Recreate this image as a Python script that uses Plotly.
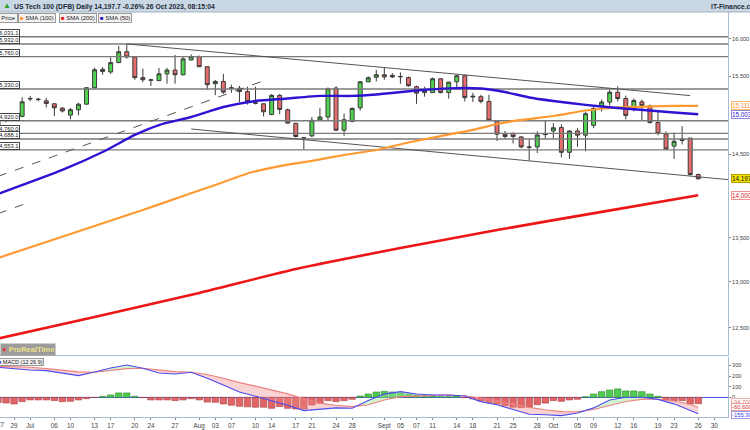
import numpy as np
import pandas as pd
import plotly.graph_objects as go

# ---------------- data ----------------
sessions = pd.bdate_range("2023-06-27", "2023-10-26")      # DFB daily sessions (trades on US holidays)
calendar = pd.bdate_range("2023-06-27", "2023-11-01")      # axis calendar (incl. future days)
pos = {d.strftime("%Y-%m-%d"): k for k, d in enumerate(calendar)}

opens = [14860, 14950, 14955, 14976, 15200, 15192, 15176, 15138, 15082, 14992,
         15061, 15133, 15347, 15590, 15555, 15680, 15826, 15755, 15480, 15445,
         15440, 15530, 15580, 15518, 15716, 15760, 15625, 15400, 15430, 15340,
         15340, 15296, 15150, 15138, 15001, 15248, 15060, 14888, 14705, 14728,
         14930, 14968, 15343, 14800, 14910, 15086, 15425, 15485, 15518, 15510,
         15490, 15480, 15360, 15283, 15283, 15465, 15283, 15425, 15505, 15225,
         15230, 15167, 14915, 14750, 14760, 14715, 14590, 14590, 14745, 14790,
         14833, 14523, 14790, 14737, 14862, 15110, 15160, 15288, 15206, 15070,
         15163, 15110, 14897, 14750, 14600, 14670, 14700, 14250]
highs = [14965, 14990, 15010, 15222, 15240, 15215, 15215, 15140, 15095, 15082,
         15150, 15355, 15610, 15620, 15750, 15906, 15932, 15765, 15600, 15465,
         15610, 15610, 15783, 15770, 15790, 15775, 15630, 15450, 15530, 15387,
         15370, 15360, 15360, 15140, 15265, 15265, 15077, 14890, 14715, 14968,
         15086, 15350, 15365, 15010, 15090, 15433, 15500, 15584, 15620, 15540,
         15550, 15495, 15375, 15360, 15482, 15470, 15425, 15520, 15518, 15280,
         15255, 15255, 14920, 14790, 14770, 14725, 14688, 14785, 14920, 14890,
         14875, 14800, 14825, 15035, 15105, 15193, 15321, 15365, 15245, 15206,
         15193, 15128, 15035, 14785, 14770, 14850, 14700, 14260]
lows = [14840, 14900, 14915, 14965, 15170, 15170, 15090, 14980, 15025, 14938,
        14990, 15125, 15340, 15520, 15530, 15675, 15735, 15452, 15420, 15370,
        15435, 15400, 15400, 15510, 15710, 15620, 15321, 15250, 15265, 15280,
        15160, 15128, 15130, 14975, 14990, 15005, 14885, 14708, 14564, 14712,
        14920, 14920, 14792, 14728, 14900, 15050, 15420, 15430, 15452, 15475,
        15400, 15360, 15137, 15230, 15280, 15275, 15205, 15355, 15167, 15160,
        15143, 14912, 14664, 14688, 14634, 14574, 14420, 14513, 14690, 14700,
        14460, 14441, 14590, 14535, 14825, 15040, 15115, 15167, 14938, 15040,
        14925, 14885, 14735, 14550, 14441, 14620, 14238, 14190]
closes = [14950, 14965, 14975, 15163, 15206, 15196, 15142, 15086, 15045, 15061,
          15133, 15347, 15584, 15562, 15680, 15826, 15755, 15480, 15452, 15450,
          15530, 15580, 15518, 15730, 15760, 15625, 15387, 15430, 15290, 15345,
          15296, 15167, 15145, 15035, 15248, 15065, 14890, 14720, 14700, 14925,
          14968, 15334, 14800, 14933, 15078, 15425, 15478, 15518, 15490, 15490,
          15495, 15373, 15276, 15312, 15465, 15283, 15420, 15505, 15218, 15235,
          15170, 14925, 14750, 14720, 14720, 14590, 14585, 14740, 14750, 14830,
          14523, 14790, 14737, 15010, 15078, 15160, 15288, 15206, 14988, 15180,
          15115, 14897, 14760, 14564, 14660, 14690, 14250, 14197.7]

sma50_dates = ["2023-06-27", "2023-07-07", "2023-07-14", "2023-07-20", "2023-07-25", "2023-07-31",
               "2023-08-04", "2023-08-10", "2023-08-16", "2023-08-22", "2023-08-28", "2023-08-31",
               "2023-09-07", "2023-09-13", "2023-09-19", "2023-09-22", "2023-09-27", "2023-10-02",
               "2023-10-06", "2023-10-12", "2023-10-18", "2023-10-23", "2023-10-26"]
sma50_vals = [14015, 14306, 14527, 14740, 14865, 14968, 15096, 15174, 15207, 15240, 15240, 15259,
              15311, 15339, 15336, 15291, 15220, 15174, 15123, 15083, 15051, 15026, 15003]
sma100_dates = ["2023-06-27", "2023-07-05", "2023-07-13", "2023-07-21", "2023-07-28", "2023-08-03",
                "2023-08-09", "2023-08-15", "2023-08-21", "2023-08-25", "2023-08-31", "2023-09-06",
                "2023-09-12", "2023-09-18", "2023-09-21", "2023-09-26", "2023-10-02", "2023-10-06",
                "2023-10-12", "2023-10-18", "2023-10-23", "2023-10-26"]
sma100_vals = [13269, 13451, 13637, 13824, 13991, 14123, 14262, 14353, 14416, 14490, 14552, 14645,
               14726, 14803, 14878, 14930, 14981, 15051, 15090, 15105, 15110, 15111]
sma200_dates = ["2023-06-27", "2023-07-13", "2023-08-01", "2023-08-17", "2023-09-05", "2023-09-21",
                "2023-10-10", "2023-10-26"]
sma200_vals = [12386, 12616, 12878, 13144, 13382, 13590, 13802, 14000]

levels = [16031.1, 15932.0, 15760.0, 15330.0, 14920.0, 14760.0, 14688.1, 14553.1]

channel_top = (["2023-07-19", "2023-10-25"], [15932, 15244])
channel_bottom = (["2023-07-31", "2023-11-01"], [14815, 14185])
support_dash_1 = (["2023-06-27", "2023-08-11"], [14227, 15438])
support_dash_2 = (["2023-06-27", "2023-07-03"], [13781, 13920])

macd_hist = [-50, -54, -63, -41, -25, -25, -25, -31, -41, -38, -25, -13, -3, 9, 22, 41, 41, 9, -3, -25,
             -25, -25, -31, -25, -13, -25, -45, -47, -63, -75, -85, -90, -94, -94, -104, -88, -104, -110,
             -110, -73, -57, -32, -41, -32, -19, 12, 31, 50, 56, 50, 41, 31, 22, 15, 15, 6, 6, 12, -3,
             -15, -35, -50, -65, -80, -94, -97, -92, -70, -55, -31, -38, -25, -19, 6, 31, 53, 69, 79,
             60, 60, 53, 31, 9, -25, -31, -31, -63, -60.6]
macd_dates = [d.strftime("%Y-%m-%d") for d in list(sessions[::2]) + [sessions[-1]]]
macd_line = [283, 267, 258, 251, 225, 204, 238, 276, 305, 274, 229, 220, 236, 180, 115, 50, 10, -30,
             -75, -126, -112, -100, -104, -30, 30, 53, 31, 22, 22, 12, -41, -70, -115, -160, -165,
             -173, -148, -100, -25, 0, 0, -20, -62, -120, -155.3]
signal_line = [292, 288, 283, 270, 255, 240, 236, 250, 270, 274, 258, 242, 236, 215, 180, 138, 105,
               72, 32, -15, -55, -75, -88, -70, -25, 6, 12, 18, 22, 15, -9, -30, -62, -95, -118, -135,
               -136, -115, -78, -40, -20, -16, -35, -65, -94.7]

tick_dates = ["2023-06-27", "2023-06-29", "2023-07-03", "2023-07-06", "2023-07-10", "2023-07-13",
              "2023-07-17", "2023-07-20", "2023-07-24", "2023-07-27", "2023-08-01", "2023-08-03",
              "2023-08-07", "2023-08-10", "2023-08-14", "2023-08-17", "2023-08-21", "2023-08-24",
              "2023-08-28", "2023-09-01", "2023-09-05", "2023-09-07", "2023-09-11", "2023-09-14",
              "2023-09-18", "2023-09-21", "2023-09-25", "2023-09-28", "2023-10-02", "2023-10-05",
              "2023-10-09", "2023-10-12", "2023-10-16", "2023-10-19", "2023-10-23", "2023-10-26",
              "2023-10-30"]
tick_text = ["27", "29", "Jul", "06", "10", "13", "17", "20", "24", "27", "Aug", "03", "07", "10", "14",
             "17", "21", "24", "28", "Sept", "05", "07", "11", "14", "18", "21", "25", "28", "Oct", "05",
             "09", "12", "16", "19", "23", "26", "30"]
price_ticks = [12500, 13000, 13500, 14500, 15500, 16000]
macd_ticks = [0, 100, 200, 300]

# ---------------- figure ----------------
FONT = "Liberation Sans, Arial, sans-serif"
X = [pos[d.strftime("%Y-%m-%d")] for d in sessions]
def ix(ds):
    return [pos[d] for d in ds]

fig = go.Figure()
XR = [0.25, 90.7]

# horizontal levels
for v in levels:
    fig.add_trace(go.Scatter(x=[XR[0] - 2, XR[1] + 2], y=[v, v], mode="lines",
                             line=dict(color="#7a7a7a", width=1.4), hoverinfo="skip",
                             showlegend=False, xaxis="x", yaxis="y"))
# trend lines
for (ds, vs), dash in [(channel_top, "solid"), (channel_bottom, "solid"),
                       (support_dash_1, "dash"), (support_dash_2, "dash")]:
    fig.add_trace(go.Scatter(x=ix(ds), y=vs, mode="lines",
                             line=dict(color="#555555", width=1, dash=dash),
                             hoverinfo="skip", showlegend=False, xaxis="x", yaxis="y"))
# moving averages
for ds, vs, col, w in [(sma200_dates, sma200_vals, "#ee1515", 2.6),
                       (sma100_dates, sma100_vals, "#ff9a33", 2.2),
                       (sma50_dates, sma50_vals, "#2c14d2", 2.4)]:
    fig.add_trace(go.Scatter(x=ix(ds), y=vs, mode="lines", line=dict(color=col, width=w, shape="spline", smoothing=0.6),
                             hoverinfo="skip", showlegend=False, xaxis="x", yaxis="y"))
# candles
fig.add_trace(go.Candlestick(
    x=X, open=opens, high=highs, low=lows, close=closes,
    increasing=dict(line=dict(color="#3a3a3a", width=1), fillcolor="#4fd24f"),
    decreasing=dict(line=dict(color="#3a3a3a", width=1), fillcolor="#e86c6c"),
    showlegend=False, xaxis="x", yaxis="y"))

# MACD fills
mx = np.array(ix(macd_dates), float)
mv = np.array(macd_line, float)
sv = np.array(signal_line, float)
fills = {"neg": ([], []), "pos": ([], [])}
for k in range(len(mx) - 1):
    a = (mx[k], mv[k], sv[k]); b = (mx[k + 1], mv[k + 1], sv[k + 1])
    d0, d1 = a[1] - a[2], b[1] - b[2]
    if d0 * d1 < 0:
        t = d0 / (d0 - d1)
        xc = a[0] + t * (b[0] - a[0]); yc = a[1] + t * (b[1] - a[1])
        c = (xc, yc, yc)
        segs = [(a, c, d0), (c, b, d1)]
    else:
        segs = [(a, b, d0 + d1)]
    for p, q, d in segs:
        key = "neg" if d < 0 else "pos"
        fills[key][0].extend([p[0], q[0], q[0], p[0], p[0], None])
        fills[key][1].extend([p[1], q[1], q[2], p[2], p[1], None])
for key, col in [("neg", "rgba(240,140,140,0.38)"), ("pos", "rgba(150,230,150,0.45)")]:
    fig.add_trace(go.Scatter(x=fills[key][0], y=fills[key][1], mode="lines", fill="toself",
                             fillcolor=col, line=dict(width=0), hoverinfo="skip",
                             showlegend=False, xaxis="x2", yaxis="y2"))
fig.add_trace(go.Bar(x=X, y=macd_hist, width=0.8,
                     marker=dict(color=["#4fcc4f" if h > 0 else "#e26464" for h in macd_hist],
                                 line=dict(color=["#2f8a2f" if h > 0 else "#a84040" for h in macd_hist], width=0.6)),
                     showlegend=False, xaxis="x2", yaxis="y2"))
fig.add_trace(go.Scatter(x=mx, y=sv, mode="lines", line=dict(color="#ef8080", width=1.1),
                         hoverinfo="skip", showlegend=False, xaxis="x2", yaxis="y2"))
fig.add_trace(go.Scatter(x=mx, y=mv, mode="lines", line=dict(color="#4b4bf0", width=1.1),
                         hoverinfo="skip", showlegend=False, xaxis="x2", yaxis="y2"))

# ---------------- layout ----------------
TOP, BOT = 12, 417
H = BOT - TOP
def py(px):  # pixel row -> paper y
    return (BOT - px) / H
def pxx(px):  # pixel column -> paper x
    return px / 728.0

AX = "#a9bccd"
fig.update_layout(
    width=750, height=430, margin=dict(l=0, r=22, t=TOP, b=430 - BOT),
    paper_bgcolor="white", plot_bgcolor="white", font=dict(family=FONT, size=6.5, color="#333"),
    bargap=0.2,
    xaxis=dict(domain=[0, 1], range=XR, anchor="y", showticklabels=False, ticks="",
               showgrid=False, zeroline=False, showline=True, linecolor=AX, linewidth=1,
               rangeslider=dict(visible=False)),
    yaxis=dict(domain=[py(355), 1], type="log",
               range=[np.log10(12213), np.log10(16373)], side="right", anchor="x",
               tickvals=price_ticks, ticktext=[f"{v:,}" for v in price_ticks],
               ticks="outside", ticklen=2, tickcolor="#888", tickfont=dict(size=5.6, color="#444"),
               showgrid=False, zeroline=False, showline=True, linecolor=AX, automargin=False),
    xaxis2=dict(domain=[0, 1], range=XR, anchor="y2", matches="x",
                tickvals=ix(tick_dates), ticktext=tick_text, ticks="outside", ticklen=2,
                tickcolor="#888", tickfont=dict(size=6.3, color="#444"), showgrid=False,
                zeroline=False, showline=True, linecolor=AX, automargin=False,
                rangeslider=dict(visible=False)),
    yaxis2=dict(domain=[0, py(357)], range=[-186, 380], side="right", anchor="x2",
                tickvals=macd_ticks, ticktext=[str(v) for v in macd_ticks], ticks="outside",
                ticklen=2, tickcolor="#888", tickfont=dict(size=5.6, color="#444"), showgrid=False,
                zeroline=True, zerolinecolor="#4b4bf0", zerolinewidth=1,
                showline=True, linecolor=AX, automargin=False),
)

shapes = [
    dict(type="rect", xref="paper", yref="paper", x0=-0.01, x1=1.05, y0=1.0, y1=1 + TOP / H + 0.01,
         fillcolor="#c9d8e4", line=dict(width=0), layer="above"),
    dict(type="line", xref="paper", yref="paper", x0=-0.01, x1=1.05, y0=1.0, y1=1.0,
         line=dict(color="#9fb2c3", width=1), layer="above"),
]
fig.update_layout(shapes=shapes)

ann = []
# header
ann.append(dict(xref="paper", yref="paper", x=pxx(1), y=py(6), xanchor="left", yanchor="middle",
                text="<span style='color:#2fa02f'>▲</span>", showarrow=False, font=dict(size=8)))
ann.append(dict(xref="paper", yref="paper", x=pxx(12), y=py(6.5), xanchor="left", yanchor="middle",
                text=f"<b>US Tech 100 (DFB) Daily {closes[-1]:,.1f} -0.26% 26 Oct 2023, 08:15:04</b>",
                showarrow=False, font=dict(size=6.8, color="#1e2a36")))
ann.append(dict(xref="paper", yref="paper", x=pxx(709), y=py(6.5), xanchor="left", yanchor="middle",
                text="<b>IT-Finance.com</b>", showarrow=False, font=dict(size=6.8, color="#1e2a36")))
# legend chips
for x0, col, label in [(-6, "#e04040", "Price"), (18, "#ff9a33", "SMA (100)"),
                       (59, "#ee1515", "SMA (200)"), (98, "#2c14d2", "SMA (50)")]:
    ann.append(dict(xref="paper", yref="paper", x=pxx(x0), y=py(18), xanchor="left", yanchor="middle",
                    text=f"<span style='color:{col}'>■</span> {label}", showarrow=False,
                    font=dict(size=6, color="#222"), bgcolor="#f3f3f3", bordercolor="#9a9a9a",
                    borderwidth=1, borderpad=1))
# level labels (left)
for v in levels:
    ann.append(dict(xref="paper", yref="y", x=pxx(20), y=np.log10(v), xanchor="right", yanchor="bottom",
                    text=f"{v:,.1f}", showarrow=False, font=dict(size=5.8, color="#222"),
                    bgcolor="white", bordercolor="#444", borderwidth=1, borderpad=0))
# value tags (right)
for v, txt, fc, bg, bc in [(sma100_vals[-1], f"{sma100_vals[-1]:,.0f}", "#ff8c1a", "white", "#ffb870"),
                           (sma50_vals[-1], f"{sma50_vals[-1]:,.0f}", "#2c14d2", "white", "#8f86e0"),
                           (closes[-1], f"{closes[-1]:,.1f}", "#111", "#f3e400", "#b0a000"),
                           (sma200_vals[-1], f"{sma200_vals[-1]:,.0f}", "#e01a1a", "white", "#f09090")]:
    ann.append(dict(xref="paper", yref="y", x=pxx(731), y=np.log10(v), xanchor="left", yanchor="middle",
                    text=txt, showarrow=False, font=dict(size=6.3, color=fc), bgcolor=bg,
                    bordercolor=bc, borderwidth=1, borderpad=0))
# ProRealTime badge
ann.append(dict(xref="paper", yref="paper", x=pxx(0), y=py(349), xanchor="left", yanchor="middle",
                text="<span style='color:#e23b3b'>●</span> <b>ProRealTime</b>", showarrow=False,
                font=dict(size=7.5, color="#efe08a"), bgcolor="#9c9c9c", borderpad=1))
# MACD title
ann.append(dict(xref="paper", yref="paper", x=pxx(-3), y=py(361.5), xanchor="left", yanchor="middle",
                text="<span style='color:#4b4bf0'>■</span> MACD (12 26 9)", showarrow=False,
                font=dict(size=5.5, color="#222"), bgcolor="#f3f3f3", bordercolor="#9a9a9a",
                borderwidth=1, borderpad=0))
# first date label at the left edge (partly clipped, as in the original)
ann.append(dict(xref="paper", yref="paper", x=pxx(1), y=py(424.5), xanchor="center",
                yanchor="middle", text=tick_text[0], showarrow=False,
                font=dict(size=6.3, color="#444")))
# MACD tags
for ypx, txt, fc, bc in [(401.5, f"{signal_line[-1]:.3f}", "#e07a7a", "#f0b0b0"),
                         (407.3, f"{macd_hist[-1]:.3f}", "#d03030", "#f0a0a0"),
                         (414.8, f"{macd_line[-1]:.2f}", "#3c3ce0", "#9a9af0")]:
    ann.append(dict(xref="paper", yref="paper", x=pxx(731), y=py(ypx), xanchor="left", yanchor="middle",
                    text=txt, showarrow=False, font=dict(size=5.8, color=fc), bgcolor="white",
                    bordercolor=bc, borderwidth=1, borderpad=0))
fig.update_layout(annotations=ann)

fig.write_html("out.html", config={"displayModeBar": False},
               post_script="document.body.style.margin='0';document.body.style.overflow='hidden';")
